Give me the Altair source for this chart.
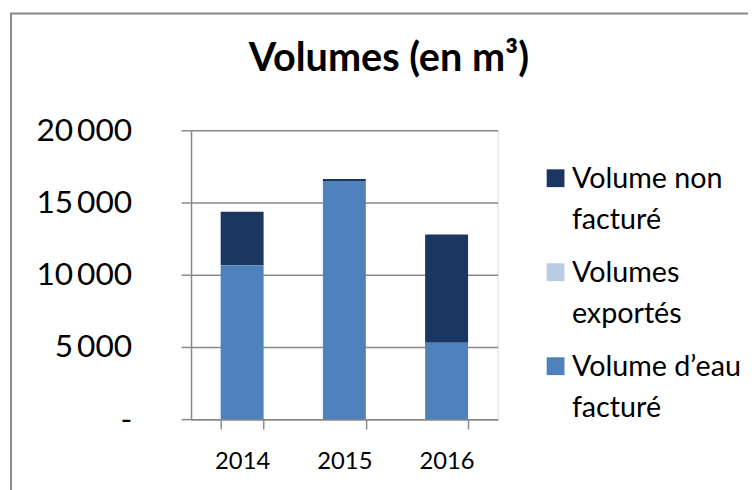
import altair as alt
import pandas as pd

years = ["2014", "2015", "2016"]
series = ["Volume non facturé", "Volumes exportés", "Volume d’eau facturé"]
non_facture = [3710, 140, 7490]
exportes = [0, 0, 0]
facture = [10650, 16490, 5290]
colors = ["#1b3761", "#b8cce4", "#4f81bd"]
stack_rank = [3, 2, 1]
y_ticks = [0, 5000, 10000, 15000, 20000]

rows = []
for vals, name, rk in zip([non_facture, exportes, facture], series, stack_rank):
    for yr, v in zip(years, vals):
        rows.append({"annee": yr, "serie": name, "volume": v, "rang": rk})
df = pd.DataFrame(rows)

FONT = "Lato"
GREY = "#898989"

bars = alt.Chart(df).mark_bar().encode(
    x=alt.X("annee:N", sort=years,
            scale=alt.Scale(paddingInner=0.58, paddingOuter=0.29),
            axis=alt.Axis(title=None, labelAngle=0, tickBand="extent", tickSize=10,
                          labelPadding=21, labelFontSize=24, labelFont=FONT,
                          labelColor="#000000", domainColor=GREY, tickColor=GREY,
                          domainWidth=1.5, tickWidth=1.5, grid=False)),
    y=alt.Y("volume:Q", stack="zero",
            scale=alt.Scale(domain=[0, 20000], nice=False),
            axis=alt.Axis(title=None, values=y_ticks, tickSize=10, labelPadding=50,
                          labelFontSize=32, labelFont=FONT, labelColor="#000000",
                          labelExpr="datum.value == 0 ? '-\u00a0\u00a0\u00a0' : replace(format(datum.value, ',d'), ',', '\u2009')",
                          domainColor=GREY, tickColor=GREY, gridColor=GREY,
                          domainWidth=1.5, tickWidth=1.5, gridWidth=1.5, grid=True)),
    color=alt.Color("serie:N",
                    scale=alt.Scale(domain=series, range=colors),
                    legend=alt.Legend(title=None, orient="none", legendX=354, legendY=21,
                                      symbolType="M-1,0.44H1V2.44H-1Z", symbolSize=324,
                                      symbolStrokeWidth=0,
                                      labelFontSize=29, labelFont=FONT, labelColor="#000000",
                                      labelOffset=2, labelBaseline="top", labelLimit=300,
                                      rowPadding=10,
                                      labelExpr="[substring(datum.label, 0, lastindexof(datum.label, ' ')), substring(datum.label, lastindexof(datum.label, ' ') + 1)]")),
    order=alt.Order("rang:Q", sort="ascending"),
)

frame = alt.Chart(pd.DataFrame({"f": [0]})).mark_rect(
    filled=False, stroke=GREY, strokeWidth=2
).encode(
    x=alt.value(-182), y=alt.value(-118), x2=alt.value(700), y2=alt.value(500)
)

chart = alt.layer(frame, bars).properties(
    width=310, height=292,
    autosize="none",
    padding={"left": 185, "top": 121, "right": 253, "bottom": 69},
    title=alt.Title("Volumes (en m³)", fontSize=40, font=FONT, fontWeight="bold",
                    color="#000000", anchor="middle", frame="group", dx=45,
                    baseline="alphabetic", offset=-99),
).configure_view(stroke=None).configure(
    style={"guide-label": {"lineHeight": 41}}
)

chart.save("out.html", embed_options={"renderer": "svg", "actions": False})
